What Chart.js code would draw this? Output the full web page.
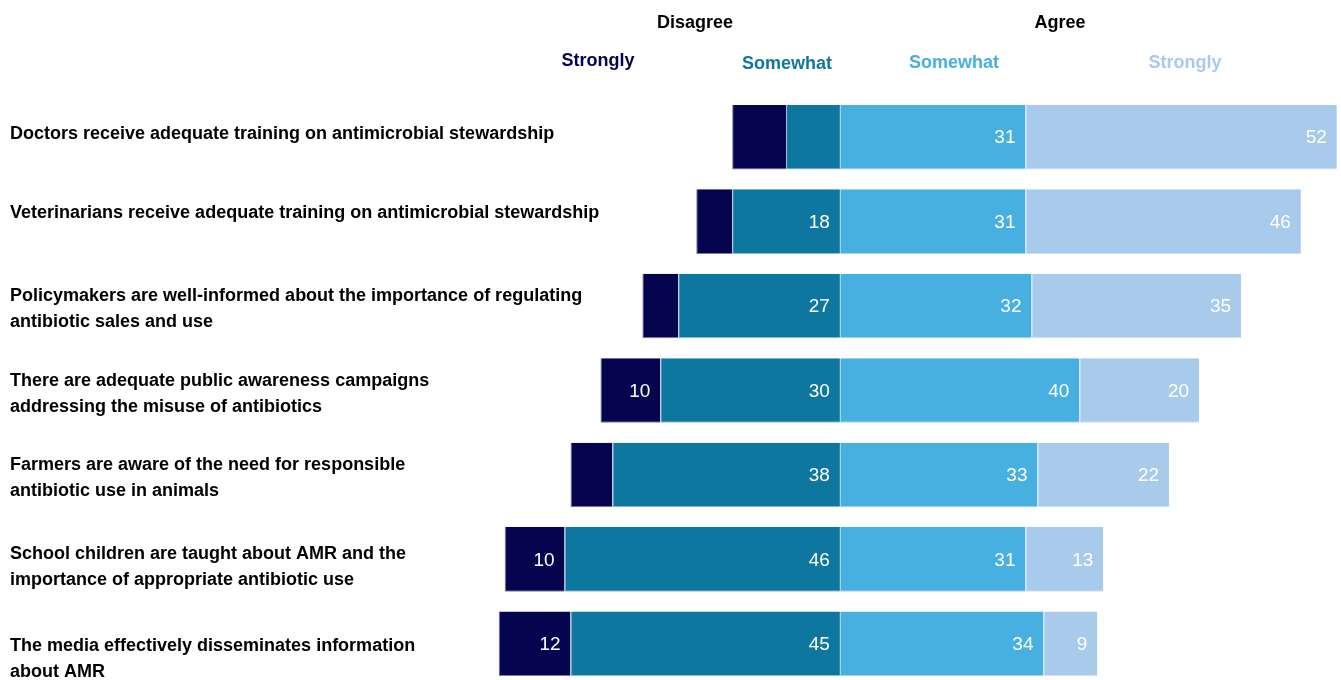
<!DOCTYPE html>
<html lang="en">
<head>
  <meta charset="UTF-8" />
  <title>AMR perceptions</title>
  <script src="https://cdn.jsdelivr.net/npm/chart.js"></script>
  <style>
    body { margin: 0; background: #fff; overflow: hidden; }
    #wrap { position: relative; width: 1341px; height: 686px; }
  </style>
</head>
<body>
  <div id="wrap"><canvas id="chart"></canvas></div>

  <script>
    // statements (multi-line labels as arrays)
    const statements = [
      ["Doctors receive adequate training on antimicrobial stewardship"],
      ["Veterinarians receive adequate training on antimicrobial stewardship"],
      ["Policymakers are well-informed about the importance of regulating", "antibiotic sales and use"],
      ["There are adequate public awareness campaigns", "addressing the misuse of antibiotics"],
      ["Farmers are aware of the need for responsible", "antibiotic use in animals"],
      ["School children are taught about AMR and the", "importance of appropriate antibiotic use"],
      ["The media effectively disseminates information", "about AMR"]
    ];

    // % of respondents
    const stronglyDisagree = [9, 6, 6, 10, 7, 10, 12];
    const somewhatDisagree = [9, 18, 27, 30, 38, 46, 45];
    const somewhatAgree    = [31, 31, 32, 40, 33, 31, 34];
    const stronglyAgree    = [52, 46, 35, 20, 22, 13, 9];

    const NAVY = "#05044f", TEAL = "#0e77a0", SKY = "#47b0e0", PALE = "#a8caeb";
    const FONT = '"Liberation Sans", Arial, sans-serif';

    // small vertical nudges so the statement text sits like the original
    const labelNudge = [-3, -9, 3, 4, 3, 8, 15];

    // draws statements, headers and value labels
    const textPlugin = {
      id: "texts",
      afterDatasetsDraw(chart) {
        const ctx = chart.ctx;
        ctx.save();

        // value labels inside bar ends
        ctx.font = "19px " + FONT;
        ctx.fillStyle = "#fff";
        ctx.textAlign = "right";
        ctx.textBaseline = "middle";
        chart.data.datasets.forEach((ds, di) => {
          const meta = chart.getDatasetMeta(di);
          meta.data.forEach((bar, i) => {
            const v = Math.abs(ds.data[i]);
            if (v < ds.minLabel) return;
            const right = Math.max(bar.x, bar.base);
            ctx.fillText(String(v), right - 10, bar.y + 1);
          });
        });

        // statements on the left
        ctx.font = "bold 18px " + FONT;
        ctx.fillStyle = "#000";
        ctx.textAlign = "left";
        const meta0 = chart.getDatasetMeta(0);
        statements.forEach((lines, i) => {
          const cy = meta0.data[i].y + labelNudge[i];
          const lh = 26;
          const top = cy - (lines.length - 1) * lh / 2;
          lines.forEach((t, k) => ctx.fillText(t, 10, top + k * lh));
        });

        // headers
        ctx.textAlign = "center";
        ctx.fillStyle = "#000";
        ctx.fillText("Disagree", 695, 23);
        ctx.fillText("Agree", 1060, 23);
        const heads = [["Strongly", NAVY, 598, 61], ["Somewhat", TEAL, 787, 64],
                       ["Somewhat", SKY, 954, 63], ["Strongly", PALE, 1185, 63]];
        heads.forEach(([t, c, x, y]) => { ctx.fillStyle = c; ctx.fillText(t, x, y); });

        ctx.restore();
      }
    };

    const edge = { top: 0, right: 0, bottom: 1, left: 1 };

    new Chart(document.getElementById("chart"), {
      type: "bar",
      data: {
        labels: statements.map(s => s.join(" ")),
        datasets: [
          { label: "Somewhat disagree", data: somewhatDisagree.map(v => -v), backgroundColor: TEAL,
            borderColor: "rgba(120,170,200,0.8)", minLabel: 10 },
          { label: "Strongly disagree", data: stronglyDisagree.map(v => -v), backgroundColor: NAVY,
            borderColor: "rgba(90,90,140,0.8)", minLabel: 10 },
          { label: "Somewhat agree", data: somewhatAgree, backgroundColor: SKY,
            borderColor: "rgba(140,200,235,0.8)", minLabel: 0 },
          { label: "Strongly agree", data: stronglyAgree, backgroundColor: PALE,
            borderColor: "rgba(200,220,245,0.9)", minLabel: 0 }
        ]
      },
      options: {
        indexAxis: "y",
        responsive: true,
        maintainAspectRatio: false,
        animation: false,
        layout: { padding: { top: 95, left: 0, right: 0, bottom: 0 } },
        barPercentage: 0.765,
        categoryPercentage: 1,
        borderWidth: edge,
        borderSkipped: false,
        scales: {
          x: { stacked: true, min: -140.3, max: 83.7, display: false },
          y: { stacked: true, display: false }
        },
        plugins: {
          legend: { display: false },
          tooltip: { enabled: false }
        }
      },
      plugins: [textPlugin]
    });
  </script>
</body>
</html>
